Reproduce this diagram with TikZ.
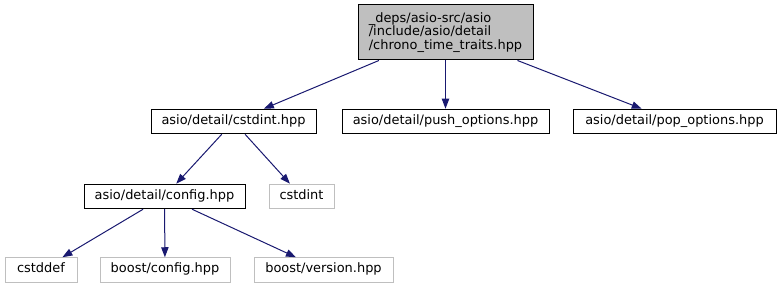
\documentclass[tikz,border=0pt]{standalone}
\usepackage{fontspec}
\setmainfont{DejaVu Sans}
\usetikzlibrary{arrows.meta}
\definecolor{edgeblue}{HTML}{191970}
\definecolor{extgray}{HTML}{BFBFBF}

\begin{document}
\begin{tikzpicture}[x=0.75pt,y=-0.75pt,
	every node/.style={font=\fontsize{9.7}{10}\selectfont,inner sep=0pt},
	file/.style={draw=black,line width=0.75pt,fill=white,minimum height=24.5*0.75pt,minimum width=#1*0.75pt},
	extfile/.style={file=#1,draw=extgray},
	dep/.style={draw=edgeblue,line width=0.75pt,-{Triangle[length=7.5pt,width=5.5pt]}}]
	\useasboundingbox (0,0) rectangle (781,291);
	% la cabecera que se incluye
	\node[file=175,minimum height=55*0.75pt,fill=extgray,align=left] (top) at (445.5,32.5)
	{\_deps/asio-src/asio\\/include/asio/detail\\/chrono\_time\_traits.hpp};
	% cabeceras de asio
	\foreach \Nombre/\Xc/\Yc/\Ancho/\Texto in
	{cstdint/233.5/121.5/165/{asio/detail/cstdint.hpp},
	 push/445.5/121.5/207/{asio/detail/push\_options.hpp},
	 pop/674.5/121.5/203/{asio/detail/pop\_options.hpp},
	 config/164.5/196.5/161/{asio/detail/config.hpp}}
	{
		\node[file=\Ancho] (\Nombre) at (\Xc,\Yc) {\strut\Texto};
	}
	% cabeceras de fuera
	\foreach \Nombre/\Xc/\Yc/\Ancho/\Texto in
	{stdint/301.5/196.5/65/cstdint,
	 cstddef/41/270/72/cstddef,
	 bconfig/165/270/130/{boost/config.hpp},
	 bversion/323.5/270/139/{boost/version.hpp}}
	{
		\node[extfile=\Ancho] (\Nombre) at (\Xc,\Yc) {\strut\Texto};
	}
	\foreach \De/\A in
	{top/cstdint,top/push,top/pop,cstdint/config,cstdint/stdint,
	 config/cstddef,config/bconfig,config/bversion}
	{
		\draw[dep] (\De) -- (\A);
	}
\end{tikzpicture}
\end{document}
